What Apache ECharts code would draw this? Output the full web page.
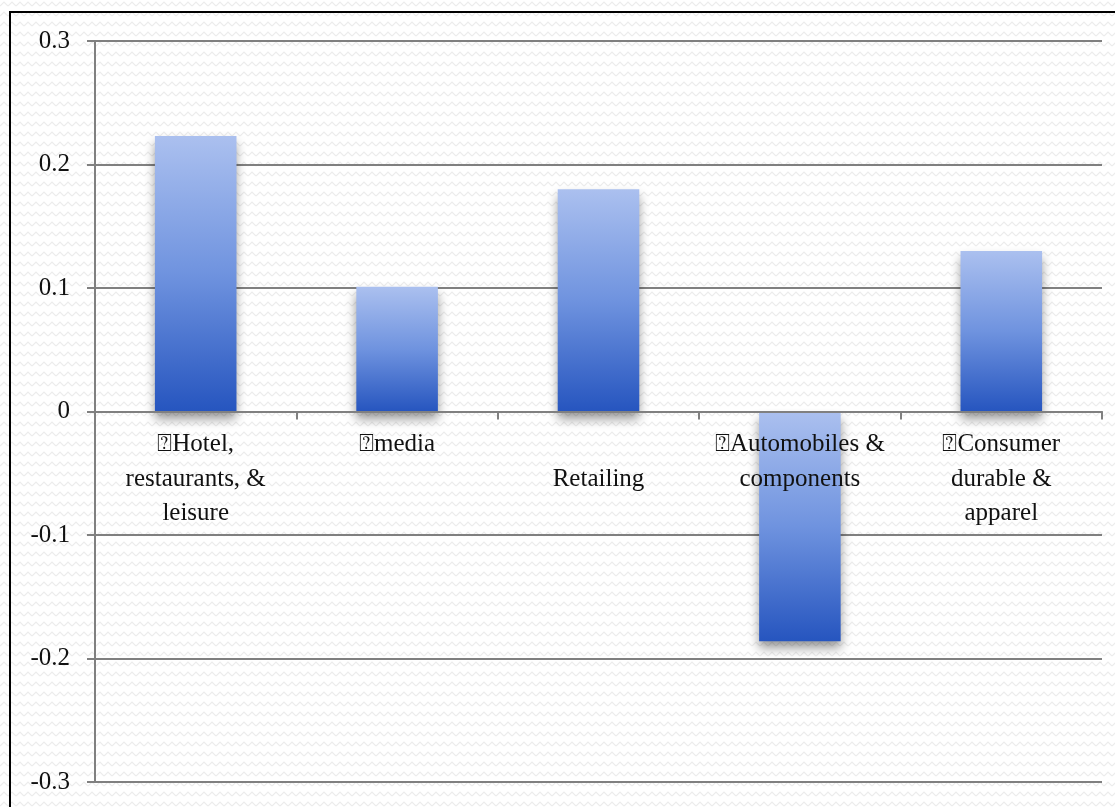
<!DOCTYPE html>
<html>
<head>
<meta charset="utf-8">
<script src="https://cdn.jsdelivr.net/npm/echarts@6/dist/echarts.min.js"></script>
<style>
  html, body { margin: 0; padding: 0; background: #fff; }
  #chart { width: 1115px; height: 807px; }
</style>
</head>
<body>
<div id="chart"></div>
<script>
// Sector labels (the leading ⍰ is part of the label text)
const categories = [
  '⍰Hotel,\nrestaurants, &\nleisure',
  '⍰media',
  '\nRetailing',
  '⍰Automobiles &\ncomponents',
  '⍰Consumer\ndurable &\napparel'
];
const values = [0.223, 0.101, 0.18, -0.186, 0.13];
const yTicks = [-0.3, -0.2, -0.1, 0, 0.1, 0.2, 0.3];

// Subtle zigzag paper texture for the background
function makeTexture() {
  const c = document.createElement('canvas');
  c.width = 8; c.height = 10;
  const g = c.getContext('2d');
  g.fillStyle = '#ffffff';
  g.fillRect(0, 0, 8, 10);
  g.strokeStyle = '#ececec';
  g.lineWidth = 1.2;
  g.beginPath();
  g.moveTo(0, 6); g.lineTo(4, 2); g.lineTo(8, 6);
  g.stroke();
  return c;
}

const chart = echarts.init(document.getElementById('chart'));
const serif = '"Liberation Serif", "DejaVu Serif", serif';
const gray = '#808080';
const GRID = { left: 95, right: 13, top: 41, bottom: 25 };

// The category axis sits on the zero line: shift it up from the grid bottom
const yMin = yTicks[0], yMax = yTicks[yTicks.length - 1];
const plotH = 807 - GRID.top - GRID.bottom;
const zeroOffset = -((0 - yMin) / (yMax - yMin)) * plotH;

chart.setOption({
  animation: false,
  backgroundColor: { image: makeTexture(), repeat: 'repeat' },
  grid: Object.assign({ containLabel: false, outerBoundsMode: 'none' }, GRID),
  graphic: [{
    type: 'rect',
    shape: { x: 10, y: 12, width: 1200, height: 900 },
    style: { fill: 'none', stroke: '#000', lineWidth: 2 },
    silent: true
  }],
  xAxis: {
    type: 'category',
    data: categories,
    z: 10,
    offset: zeroOffset,
    axisLine: { onZero: false, lineStyle: { color: gray, width: 2 } },
    axisTick: { show: true, length: 8, lineStyle: { color: gray, width: 2 } },
    axisLabel: {
      interval: 0,
      margin: 16,
      color: '#111',
      fontFamily: serif,
      fontSize: 25,
      lineHeight: 34.5,
      align: 'center'
    },
    splitLine: { show: false }
  },
  yAxis: {
    type: 'value',
    min: yMin,
    max: yMax,
    interval: 0.1,
    axisLine: { show: true, lineStyle: { color: gray, width: 2 } },
    axisTick: { show: true, length: 8, lineStyle: { color: gray, width: 2 } },
    axisLabel: {
      margin: 25,
      color: '#111',
      fontFamily: serif,
      fontSize: 25,
      formatter: v => {
        const r = Math.round(v * 10) / 10;
        return r === 0 ? '0' : r.toFixed(1);
      }
    },
    splitLine: { show: true, lineStyle: { color: gray, width: 2 } }
  },
  series: [{
    type: 'bar',
    data: values,
    barWidth: '40.5%',
    itemStyle: {
      color: new echarts.graphic.LinearGradient(0, 0, 0, 1, [
        { offset: 0, color: '#abc0ef' },
        { offset: 0.5, color: '#6f93df' },
        { offset: 1, color: '#2655bf' }
      ]),
      shadowColor: 'rgba(0,0,0,0.4)',
      shadowBlur: 10,
      shadowOffsetY: 7
    }
  }]
});
</script>
</body>
</html>
